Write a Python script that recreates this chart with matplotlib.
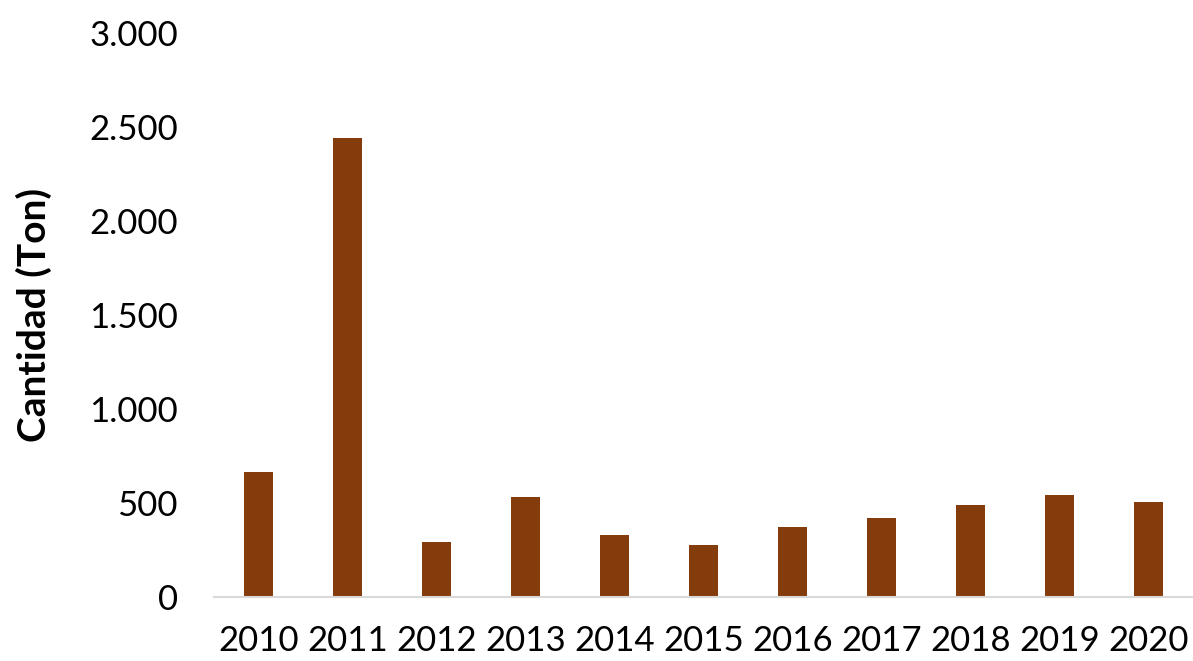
import matplotlib

matplotlib.use("Agg")
import matplotlib.pyplot as plt
from matplotlib.ticker import FuncFormatter

# yearly quantities (tons)
years = ["2010", "2011", "2012", "2013", "2014", "2015", "2016", "2017", "2018", "2019", "2020"]
cantidad = [663, 2441, 291, 530, 331, 275, 374, 420, 489, 541, 504]
y_ticks = [0, 500, 1000, 1500, 2000, 2500, 3000]

BAR_COLOR = "#843C0C"

plt.rcParams["font.family"] = ["Lato", "DejaVu Sans"]

fig = plt.figure(figsize=(11.93, 6.61), dpi=100)
fig.patch.set_facecolor("white")
ax = fig.add_axes([214 / 1193, 64 / 661, 1 - 214 / 1193, 564 / 661])
ax.set_facecolor("none")

ax.bar(range(len(years)), cantidad, width=0.32, color=BAR_COLOR, zorder=2)

ax.set_xlim(-0.5, len(years) - 0.5)
ax.set_ylim(0, 3000)
ax.set_xticks(range(len(years)))
ax.set_xticklabels(years)
ax.set_yticks(y_ticks)
# thousands separated with a dot, as in the original
ax.yaxis.set_major_formatter(FuncFormatter(lambda v, _: f"{int(v):,}".replace(",", ".")))

for side in ("top", "right", "left"):
    ax.spines[side].set_visible(False)
ax.spines["bottom"].set_color("#d9d9d9")
ax.spines["bottom"].set_linewidth(1.5)

ax.tick_params(axis="both", length=0, labelsize=25, labelcolor="black")
ax.tick_params(axis="y", pad=26)
ax.tick_params(axis="x", pad=20)

ax.set_ylabel("Cantidad (Ton)", fontsize=28, fontweight="bold")
ax.yaxis.set_label_coords((52 - 214) / 979, 0.5)

fig.savefig("out.png", dpi=100)
